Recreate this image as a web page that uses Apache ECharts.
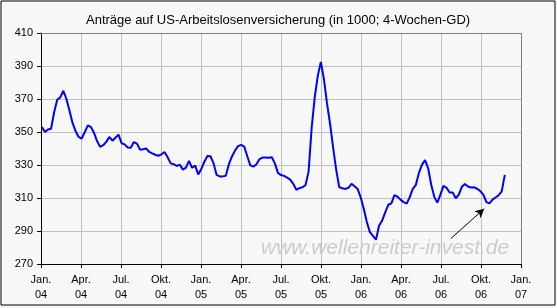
<!DOCTYPE html>
<html>
<head>
<meta charset="utf-8">
<script src="https://cdn.jsdelivr.net/npm/echarts@6/dist/echarts.min.js"></script>
<style>
html,body{margin:0;padding:0;background:#ffffff;}
#c{width:557px;height:308px;}
</style>
</head>
<body>
<div id="c"></div>
<script>
// Tick labels (quarters) for the x axis
const quarterLabels = ['Jan.\n04','Apr.\n04','Jul.\n04','Okt.\n04','Jan.\n05','Apr.\n05','Jul.\n05','Okt.\n05','Jan.\n06','Apr.\n06','Jul.\n06','Okt.\n06','Jan.\n07'];
// y axis range
const yMin = 270, yMax = 410, yStep = 20;
// Weekly data: first week ends 2004-01-03 (day 2 after 2004-01-01), one value per week
const firstDay = 2;
const claims = [
353,350,351.5,352,362,369.5,371,375,370,363,
355.5,350.5,347,346,350,354,353,349.5,344.5,341,
342,344,347,344.7,346.5,348.4,343.2,342.5,340.6,340.5,
343.9,343,339.3,339.5,340,338,337,336.2,335.6,336.5,
337.9,334.8,331,330.5,329.4,330.2,327.2,328.4,332.5,328.3,
329.6,324.3,327.5,332,335.5,335.3,331,324,323.1,323.1,
323.5,330.5,335.2,338.7,341.4,342.2,341.2,335.3,329.8,329,
330.5,333.6,334.5,334.5,334.4,334.7,331,325.2,323.9,323.4,
322.3,321.1,318.6,315,316,316.5,317.8,326,352.5,371,
384,392.5,382,367.5,355,340.5,327.2,316.5,315.9,315.5,
316.2,318.6,317.1,315.5,310.3,303.5,295.5,289.3,287,284.8,
293.3,296.3,301.3,305.9,306.8,311.8,310.8,309,307.5,306.6,
310.5,315.5,318,325.3,330.2,333,328,318,310.7,307.2,
312,317.3,316.2,313.3,313.4,309.8,312,316.8,318.5,317,
316.4,316.5,315.6,314.2,312,307.5,306.7,309,310.3,311.7,
314,324
];
// Arrow annotation (day offset, value)
const arrowFrom = [936, 285.5];
const arrowTo = [1012, 303.5];

const totalDays = 1096;
const qInt = totalDays / 12;
const seriesData = claims.map((v, i) => [firstDay + 7 * i, v]);
// quarter positions (days) for vertical gridlines
const quarterDays = quarterLabels.map((_, i) => i * qInt);

const crisp = v => Math.round(v) + 0.5;

const chart = echarts.init(document.getElementById('c'), null, {renderer: 'canvas'});
chart.setOption({
  animation: false,
  backgroundColor: '#f8f8f8',
  textStyle: {fontFamily: 'Liberation Sans, Arial, sans-serif'},
  title: {
    text: 'Anträge auf US-Arbeitslosenversicherung (in 1000; 4-Wochen-GD)',
    left: 81, top: 9,
    textStyle: {fontSize: 13, fontWeight: 'normal', color: '#000', fontFamily: 'Liberation Sans, Arial, sans-serif'}
  },
  graphic: [
    {type: 'rect', z: 100, silent: true,
     shape: {x: 1, y: 1, width: 554, height: 304},
     style: {fill: 'transparent', stroke: '#000000', lineWidth: 1}},
    {type: 'text', z: 2, silent: true, left: 261, top: 238,
     style: {text: 'www.wellenreiter-invest.de', fill: '#cccccc',
             font: 'italic 21px "Liberation Sans", Arial, sans-serif'}}
  ],
  grid: {left: 41, right: 36, top: 33, bottom: 44, show: false},
  xAxis: {
    type: 'value', min: 0, max: totalDays, interval: qInt,
    axisLine: {show: true, lineStyle: {color: '#000', width: 1}},
    axisTick: {show: true, length: 4, lineStyle: {color: '#000'}},
    splitLine: {show: false},
    axisLabel: {
      color: '#000', fontSize: 11, lineHeight: 15, margin: 8,
      showMinLabel: true, showMaxLabel: true,
      formatter: v => quarterLabels[Math.round(v / qInt)] || ''
    }
  },
  yAxis: {
    type: 'value', min: yMin, max: yMax, interval: yStep,
    axisLine: {show: true, lineStyle: {color: '#000', width: 1}},
    axisTick: {show: true, length: 4, lineStyle: {color: '#000'}},
    splitLine: {show: true, lineStyle: {color: '#c0c0c0', width: 1}},
    axisLabel: {color: '#000', fontSize: 11, margin: 8}
  },
  series: [
    {
      type: 'custom', name: 'vgrid', z: 1, silent: true,
      data: quarterDays.map((d, i) => [d, i]),
      encode: {x: 0},
      clip: false,
      renderItem: (params, api) => {
        const i = api.value(1);
        if (i === 0) return null;
        const p0 = api.coord([api.value(0), yMin]);
        const p1 = api.coord([api.value(0), yMax]);
        const x = crisp(p0[0]);
        const last = i === quarterLabels.length - 1;
        return {
          type: 'line', silent: true,
          shape: {x1: x, y1: p0[1], x2: x, y2: p1[1]},
          style: {stroke: last ? '#808080' : '#c0c0c0', lineWidth: 1}
        };
      }
    },
    {
      type: 'custom', name: 'topframe', z: 1.5, silent: true,
      data: [[0, yMax]],
      encode: {x: 0, y: 1},
      clip: false,
      renderItem: (params, api) => {
        const p0 = api.coord([0, yMax]);
        const p1 = api.coord([totalDays, yMax]);
        const y = crisp(p0[1]);
        return {
          type: 'line', silent: true,
          shape: {x1: p0[0], y1: y, x2: p1[0], y2: y},
          style: {stroke: '#808080', lineWidth: 1}
        };
      }
    },
    {
      type: 'line', name: 'claims',
      data: seriesData,
      showSymbol: false,
      z: 3,
      lineStyle: {color: '#0000ff', width: 2},
      itemStyle: {color: '#0000ff'},
      markLine: {
        silent: true,
        symbol: ['none', 'arrow'],
        symbolSize: [7, 9],
        label: {show: false},
        lineStyle: {color: '#000', width: 1, type: 'solid'},
        data: [[{coord: arrowFrom}, {coord: arrowTo}]]
      }
    }
  ]
});
</script>
</body>
</html>
